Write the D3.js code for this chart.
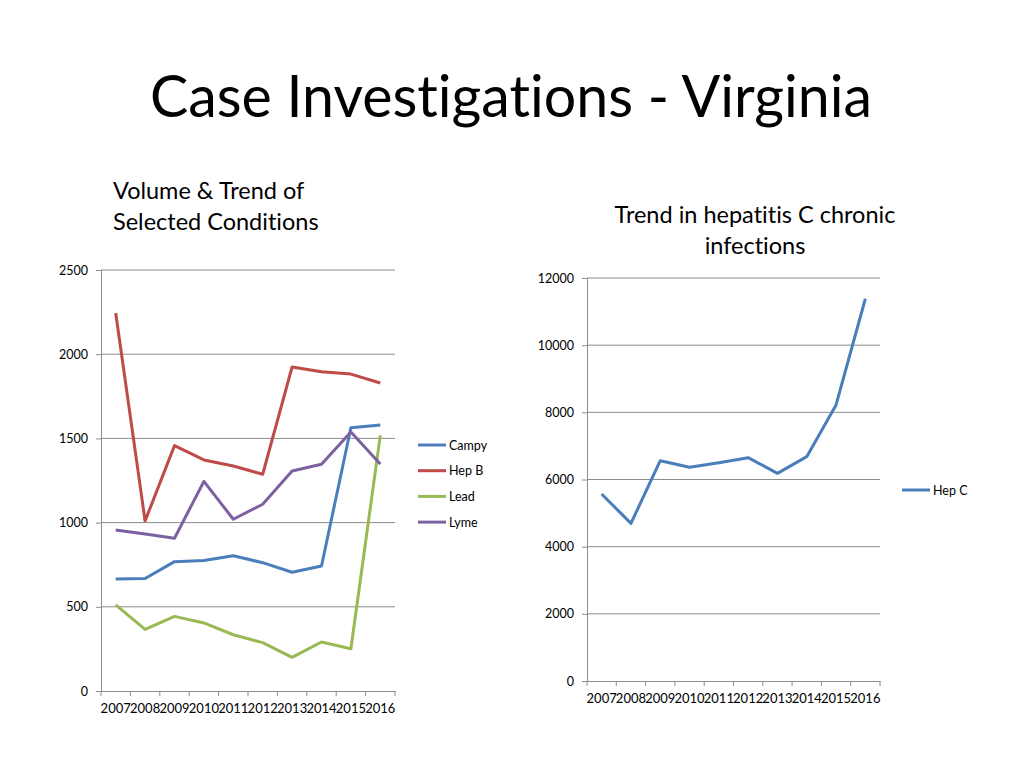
<!DOCTYPE html>
<html><head><meta charset="utf-8">
<script src="https://cdn.jsdelivr.net/npm/d3@7"></script>
<style>body{margin:0;background:#fff;} text{font-family:Lato, "Open Sans", sans-serif;font-variant-ligatures:none;}</style>
</head><body>
<svg id="c" width="1024" height="768"></svg>
<script>
const years = ["2007","2008","2009","2010","2011","2012","2013","2014","2015","2016"];
const campy = [665, 668, 768, 775, 803, 762, 705, 742, 1563, 1580];
const hepB  = [2245, 1010, 1457, 1372, 1336, 1287, 1924, 1896, 1882, 1829];
const lead  = [511, 366, 443, 404, 334, 287, 200, 291, 251, 1518];
const lyme  = [956, 932, 907, 1245, 1020, 1109, 1306, 1346, 1538, 1348];
const hepC  = [5567, 4693, 6560, 6363, 6500, 6650, 6184, 6680, 8221, 11382];
const leftTicks = [0, 500, 1000, 1500, 2000, 2500];
const rightTicks = [0, 2000, 4000, 6000, 8000, 10000, 12000];
const leftSeries = [
  {name:"Campy", values:campy, color:"#4A7EBB"},
  {name:"Hep B", values:hepB, color:"#BE4B48"},
  {name:"Lead", values:lead, color:"#98B954"},
  {name:"Lyme", values:lyme, color:"#7D60A0"}
];
const rightSeries = [{name:"Hep C", values:hepC, color:"#4A7EBB"}];

const svg = d3.select("#c");
svg.append("text").attr("x",511).attr("y",117).attr("text-anchor","middle")
  .attr("font-size",57.3).attr("fill","#000").text("Case Investigations - Virginia");

svg.append("text").attr("x",113).attr("y",199).attr("font-size",23.5).text("Volume & Trend of");
svg.append("text").attr("x",113).attr("y",230).attr("font-size",23.5).text("Selected Conditions");
svg.append("text").attr("x",755).attr("y",223).attr("text-anchor","middle").attr("font-size",23.5).text("Trend in hepatitis C chronic");
svg.append("text").attr("x",755).attr("y",254).attr("text-anchor","middle").attr("font-size",23.5).text("infections");

function chart(opts){
  const {x0,x1,y0,y1,max,ticks,series,legendX,legendY,legendGap} = opts;
  const g = svg.append("g");
  const x = d3.scaleBand().domain(years).range([x0,x1]);
  const y = d3.scaleLinear().domain([0,max]).range([y1,y0]);
  g.selectAll("line.grid").data(ticks.filter(t=>t>0)).join("line")
    .attr("x1",x0).attr("x2",x1).attr("y1",d=>y(d)).attr("y2",d=>y(d))
    .attr("stroke","#8c8c8c").attr("stroke-width",1);
  const ya = d3.axisLeft(y).tickValues(ticks).tickSize(5).tickPadding(8).tickFormat(d3.format("d"));
  const yg = g.append("g").attr("transform",`translate(${x0},0)`).call(ya);
  yg.select(".domain").attr("stroke","#8c8c8c");
  yg.selectAll(".tick line").attr("stroke","#8c8c8c");
  yg.selectAll("text").attr("font-size",12.5).attr("fill","#000").attr("font-family","Lato, sans-serif");
  const xa = d3.axisBottom(x).tickSize(0).tickPadding(13);
  const xg = g.append("g").attr("transform",`translate(0,${y1})`).call(xa);
  xg.select(".domain").attr("stroke","#8c8c8c");
  xg.selectAll("text").attr("font-size",13).attr("fill","#000").attr("font-family","Lato, sans-serif");
  const bounds = years.map(d=>x(d)).concat([x1]);
  g.selectAll("line.xt").data(bounds).join("line")
    .attr("x1",d=>d).attr("x2",d=>d).attr("y1",y1).attr("y2",y1+5)
    .attr("stroke","#8c8c8c");
  const line = d3.line().x((d,i)=>x(years[i])+x.bandwidth()/2).y(d=>y(d));
  g.selectAll("path.s").data(series).join("path")
    .attr("d",d=>line(d.values)).attr("fill","none").attr("stroke",d=>d.color)
    .attr("stroke-width",3).attr("stroke-linejoin","round");
  const lg = g.selectAll("g.lg").data(series).join("g")
    .attr("transform",(d,i)=>`translate(${legendX},${legendY+i*legendGap})`);
  lg.append("line").attr("x1",0).attr("x2",28).attr("stroke",d=>d.color).attr("stroke-width",3);
  lg.append("text").attr("x",31).attr("y",4.5).attr("font-size",12.5).text(d=>d.name);
}

chart({x0:101,x1:395,y0:270,y1:691,max:2500,ticks:leftTicks,series:leftSeries,legendX:418,legendY:445,legendGap:25.7});
chart({x0:587,x1:880,y0:278,y1:681,max:12000,ticks:rightTicks,series:rightSeries,legendX:902,legendY:490,legendGap:25});
</script>
</body></html>
